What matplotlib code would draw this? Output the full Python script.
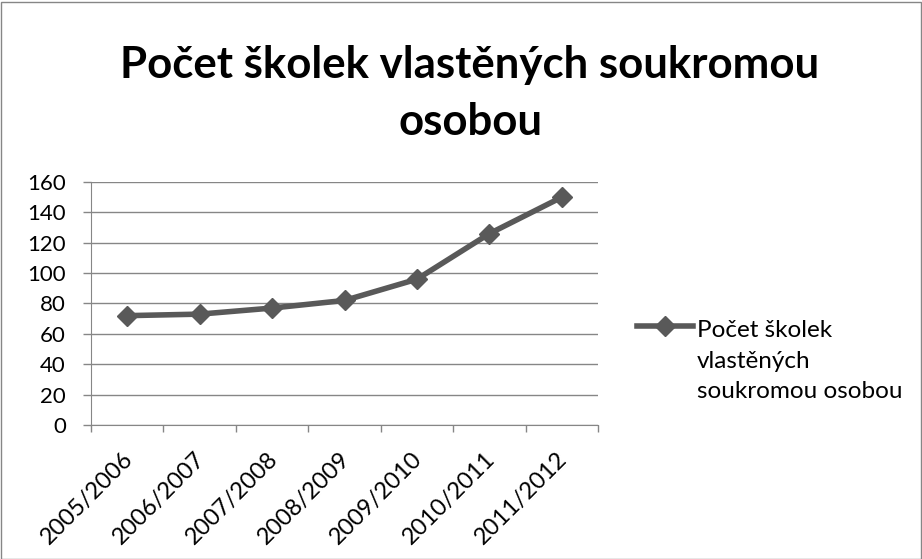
import matplotlib
matplotlib.use("Agg")
import matplotlib.pyplot as plt
from matplotlib.lines import Line2D
from matplotlib.patches import Rectangle
from matplotlib.transforms import ScaledTranslation

categories = ["2005/2006", "2006/2007", "2007/2008", "2008/2009", "2009/2010", "2010/2011", "2011/2012"]
values = [72, 73, 77, 82, 96, 126, 150]
yticks = [0, 20, 40, 60, 80, 100, 120, 140, 160]
title_lines = ["Počet školek vlastěných soukromou", "osobou"]
series_lines = ["Počet školek", "vlastěných", "soukromou osobou"]

plt.rcParams['font.family'] = ['Lato', 'DejaVu Sans']

W, H = 922, 559
fig = plt.figure(figsize=(W/100, H/100), dpi=100)
fig.patches.append(Rectangle((0.5/W, 0.5/H), 1 - 2/W, 1 - 2/H, transform=fig.transFigure,
                             fill=False, edgecolor="#868686", linewidth=1))

def fx(px):
    return px / W

def fy(py):
    return 1 - py / H

ax = fig.add_axes([fx(91), fy(425), (598 - 91)/W, (425 - 182)/H])
line_color = "#595959"
grid_color = "#868686"

x = list(range(len(categories)))
ax.plot(x, values, color=line_color, linewidth=4, marker="D", markersize=10,
        markerfacecolor=line_color, markeredgecolor=line_color, clip_on=False, zorder=3)

ax.set_xlim(-0.5, len(categories) - 0.5)
ax.set_ylim(0, 160)
ax.set_yticks(yticks)
ax.set_yticklabels([str(v) for v in yticks], fontsize=16)
ax.yaxis.grid(True, color=grid_color, linewidth=1)
ax.set_axisbelow(True)

ax.set_xticks([i - 0.5 for i in range(len(categories) + 1)])
ax.set_xticklabels([])
ax.set_xticks(x, minor=True)
ax.set_xticklabels(categories, minor=True, rotation=45, ha="right", va="center",
                   rotation_mode="anchor", fontsize=17)
ax.tick_params(axis="x", which="minor", length=0, pad=0)
ax.tick_params(axis="x", which="major", length=5, color=grid_color, width=1, direction="out")
ax.tick_params(axis="y", length=6, color=grid_color, width=1, direction="out", pad=12)
off = ScaledTranslation(2/100, -31/100, fig.dpi_scale_trans)
for lab in ax.get_xticklabels(minor=True):
    lab.set_transform(lab.get_transform() + off)

for s in ["top", "right"]:
    ax.spines[s].set_visible(False)
ax.spines["left"].set_color(grid_color)
ax.spines["bottom"].set_color(grid_color)

for line, base in zip(title_lines, [78, 135]):
    fig.text(fx(470), fy(base), line, ha="center", va="baseline", fontsize=31.5, fontweight="bold")

# legend
ly = fy(326)
fig.add_artist(Line2D([fx(637), fx(693)], [ly, ly], transform=fig.transFigure, color=line_color,
                      linewidth=4))
fig.add_artist(Line2D([fx(665)], [ly], transform=fig.transFigure, color=line_color,
                      marker="D", markersize=10, linestyle="none"))
for line, base in zip(series_lines, [337, 368, 398]):
    fig.text(fx(697), fy(base), line, ha="left", va="baseline", fontsize=17.5)

fig.savefig("out.png", dpi=100)
